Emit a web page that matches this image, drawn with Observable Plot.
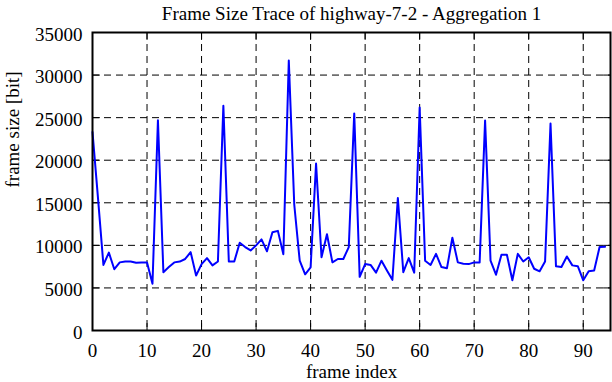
<!DOCTYPE html>
<html>
<head>
<meta charset="utf-8">
<script src="https://cdn.jsdelivr.net/npm/d3@7"></script>
<script src="https://cdn.jsdelivr.net/npm/@observablehq/plot@0.6"></script>
<style>
  html, body { margin: 0; padding: 0; background: #fff; }
</style>
</head>
<body>
<div id="chart"></div>
<script>
const title = "Frame Size Trace of highway-7-2 - Aggregation 1";
const xLabel = "frame index";
const yLabel = "frame size [bit]";
const xDomain = [0, 95];
const yDomain = [0, 35000];
const xTicks = [0, 10, 20, 30, 40, 50, 60, 70, 80, 90];
const yTicks = [0, 5000, 10000, 15000, 20000, 25000, 30000, 35000];
const xGrid = [10, 20, 30, 40, 50, 60, 70, 80, 90];
const yGrid = [5000, 10000, 15000, 20000, 25000, 30000];
const frameSizes = [
  23300, 15600, 7700, 9150, 7200, 8000, 8100, 8100, 7950, 8000,
  8000, 5500, 24700, 6850, 7450, 8000, 8100, 8400, 9200, 6450,
  7800, 8500, 7650, 8100, 26400, 8100, 8100, 10300, 9800, 9400,
  10000, 10700, 9300, 11550, 11700, 8950, 31700, 14800, 8200, 6600,
  7400, 19600, 8600, 11300, 8000, 8400, 8400, 9800, 25500, 6300,
  7800, 7700, 6800, 8200, 7050, 5950, 15550, 6850, 8500, 6800,
  26200, 8200, 7700, 9000, 7450, 7300, 10900, 8000, 7850, 7800,
  8000, 8000, 24650, 8200, 6550, 8900, 8900, 5900, 9000, 8100,
  8600, 7250, 6950, 8100, 24300, 7550, 7450, 8700, 7650, 7550,
  5900, 6950, 7050, 9800, 9850
];

const tickShape = {
  draw(context, l) { context.moveTo(0, 0); context.lineTo(0, -l); }
};
const tickLen = 7;
const font = "'Liberation Serif', 'Times New Roman', serif";
const fmt = d3.format("d");

const chart = Plot.plot({
  width: 612,
  height: 382,
  marginLeft: 92,
  marginRight: 2,
  marginTop: 32,
  marginBottom: 52,
  style: { fontFamily: font, fontSize: "19px", color: "black", background: "white" },
  x: { domain: xDomain, label: null, axis: null },
  y: { domain: yDomain, label: null, axis: null },
  marks: [
    Plot.gridX(xGrid, { stroke: "black", strokeOpacity: 1, strokeWidth: 1, strokeDasharray: "7,5" }),
    Plot.gridY(yGrid, { stroke: "black", strokeOpacity: 1, strokeWidth: 1, strokeDasharray: "7,5" }),
    Plot.vector(xTicks, { x: d => d, y: yDomain[0], length: tickLen, rotate: 0, anchor: "start", shape: tickShape, stroke: "black", strokeWidth: 1 }),
    Plot.vector(xTicks, { x: d => d, y: yDomain[1], length: tickLen, rotate: 180, anchor: "start", shape: tickShape, stroke: "black", strokeWidth: 1 }),
    Plot.vector(yTicks, { x: xDomain[0], y: d => d, length: tickLen, rotate: 90, anchor: "start", shape: tickShape, stroke: "black", strokeWidth: 1 }),
    Plot.vector(yTicks, { x: xDomain[1], y: d => d, length: tickLen, rotate: -90, anchor: "start", shape: tickShape, stroke: "black", strokeWidth: 1 }),
    Plot.line(frameSizes, { x: (d, i) => i, y: d => d, stroke: "#0000ff", strokeWidth: 2 }),
    Plot.frame({ stroke: "black", strokeWidth: 2 }),
    Plot.text(xTicks, { x: d => d, frameAnchor: "bottom", text: d => fmt(d), dy: 20, lineAnchor: "middle", fontSize: 19, fontFamily: font, fill: "black" }),
    Plot.text(yTicks, { y: d => d, frameAnchor: "left", text: d => fmt(d), dx: -10, dy: 2, textAnchor: "end", lineAnchor: "middle", fontSize: 19, fontFamily: font, fill: "black" }),
    Plot.text([title], { frameAnchor: "top", dy: -19, lineAnchor: "middle", fontSize: 19, fontFamily: font, fill: "black" }),
    Plot.text([xLabel], { frameAnchor: "bottom", dy: 41, lineAnchor: "middle", fontSize: 19, fontFamily: font, fill: "black" }),
    Plot.text([yLabel], { frameAnchor: "left", dx: -80, dy: 6, rotate: -90, lineAnchor: "middle", fontSize: 19, fontFamily: font, fill: "black" })
  ]
});
document.getElementById("chart").appendChild(chart);
</script>
</body>
</html>
